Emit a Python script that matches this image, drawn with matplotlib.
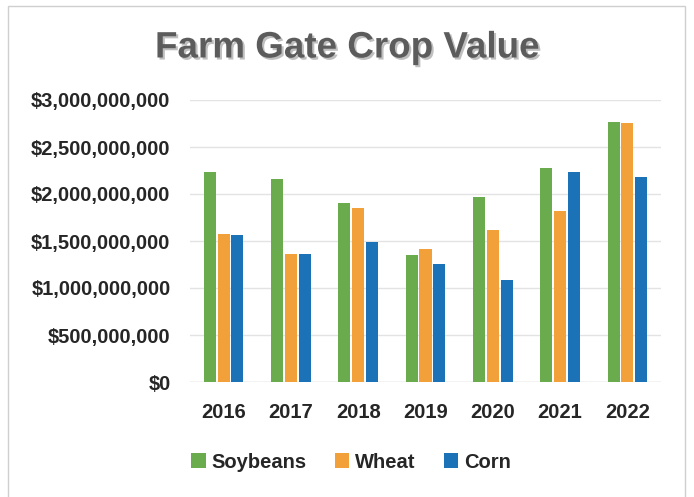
import numpy as np
import matplotlib.pyplot as plt
import matplotlib.patheffects as pe
from matplotlib.ticker import FuncFormatter
from matplotlib.patches import Rectangle

years = ["2016", "2017", "2018", "2019", "2020", "2021", "2022"]
soybeans = [2.23e9, 2.16e9, 1.90e9, 1.35e9, 1.97e9, 2.28e9, 2.77e9]
wheat = [1.57e9, 1.36e9, 1.85e9, 1.42e9, 1.62e9, 1.82e9, 2.76e9]
corn = [1.56e9, 1.36e9, 1.49e9, 1.26e9, 1.09e9, 2.23e9, 2.18e9]

plt.rcParams['font.family'] = ['Liberation Sans', 'DejaVu Sans']

fig = plt.figure(figsize=(6.94, 4.97), dpi=100)
fig.patches.append(Rectangle((8 / 694, -0.01), 677 / 694, 1 - 6 / 497 + 0.01,
                             transform=fig.transFigure, fill=False,
                             edgecolor='#cfcfcf', linewidth=1))

ax = fig.add_axes([190 / 694, 115 / 497, 471 / 694, 282 / 497])

x = np.arange(len(years))
w = 0.18
step = 0.205
ax.bar(x - step, soybeans, w, color='#6aab4e', label='Soybeans', zorder=3)
ax.bar(x, wheat, w, color='#f2a03a', label='Wheat', zorder=3)
ax.bar(x + step, corn, w, color='#1c72b6', label='Corn', zorder=3)

ax.set_xlim(-0.5, len(years) - 0.5)
ax.set_ylim(0, 3e9)
ax.set_yticks(np.arange(0, 3.01e9, 0.5e9))
ax.yaxis.set_major_formatter(FuncFormatter(lambda v, p: "${:,.0f}".format(v)))
ax.set_xticks(x)
ax.set_xticklabels(years)
ax.grid(axis='y', color='#e3e3e3', linewidth=1, zorder=0)
for s in ax.spines.values():
    s.set_visible(False)
ax.axhline(0, color='#d9d9d9', linewidth=1, zorder=2)
ax.tick_params(length=0)
ax.tick_params(axis='y', pad=14, labelsize=14.5, labelcolor='#262626')
ax.tick_params(axis='x', pad=15, labelsize=14.5, labelcolor='#262626')
for lab in ax.get_xticklabels() + ax.get_yticklabels():
    lab.set_fontweight('bold')

fig.text(0.5, 1 - 48 / 497, "Farm Gate Crop Value", ha='center', va='center',
         fontsize=26.5, fontweight='bold', color='#5c5c5c',
         path_effects=[pe.withSimplePatchShadow(offset=(1.5, -1.5), shadow_rgbFace='#b0b0b0', alpha=0.8)])

leg = fig.legend(loc='center', bbox_to_anchor=(351 / 694, 1 - 462 / 497), ncol=3,
                 frameon=False, handlelength=0.7, handleheight=0.7,
                 handletextpad=0.3, columnspacing=1.4,
                 prop={'size': 14.5, 'weight': 'bold'})
for t in leg.get_texts():
    t.set_color('#262626')

fig.savefig('out.png', dpi=100)
